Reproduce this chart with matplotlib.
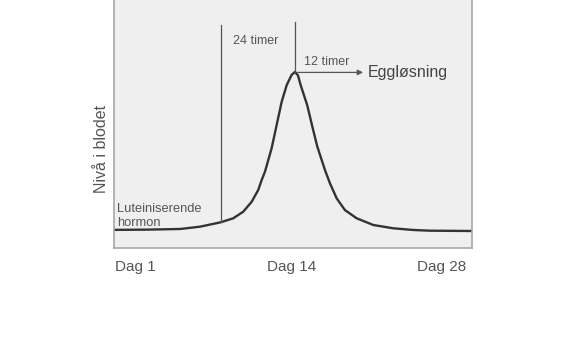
import matplotlib.pyplot as plt

# kurve for luteiniserende hormon (dag, nivå)
dager = [1, 3.5, 5.98, 7.49, 9.05, 10.0, 10.75, 11.39, 11.88, 12.14, 12.39,
         12.89, 13.27, 13.65, 14.03, 14.4, 14.65, 14.88, 15.08, 15.58, 15.96,
         16.33, 16.91, 17.29, 17.8, 18.42, 19.3, 20.56, 22.07, 23.57, 24.83,
         28]
nivaa = [7.3, 7.4, 7.66, 8.59, 10.36, 11.98, 14.64, 18.67, 23.4, 27.4, 30.8,
         40.2, 49.6, 59.0, 65.7, 69.8, 71.0, 69.6, 65.7, 57.5, 49.0,
         41.0, 31.5, 26.1, 20.0, 15.3, 12.0, 9.27, 7.94, 7.26, 6.98,
         6.85]

dag_ticks = [1, 14, 28]
dag_labels = ["Dag 1", "Dag 14", "Dag 28"]

plt.rcParams["font.family"] = ["Liberation Sans", "DejaVu Sans"]

fig = plt.figure(figsize=(5.8, 3.58), dpi=100)
ax = fig.add_axes([0.1966, 0.3073, 0.617, 0.6927])
ax.set_facecolor("#efefef")
ax.set_xlim(1, 28)
ax.set_ylim(0, 100)
ax.set_xticks([])
ax.set_yticks([])
ax.spines["top"].set_visible(False)
for s in ["left", "right", "bottom"]:
    ax.spines[s].set_color("#a8a8a8")
    ax.spines[s].set_linewidth(1.2)

ax.plot(dager, nivaa, color="#333333", lw=1.7, solid_joinstyle="round")

# vertikale linjer
ax.plot([9.07, 9.07], [10.4, 89.9], color="#555555", lw=0.9)
ax.plot([14.65, 14.65], [71.0, 91.1], color="#555555", lw=0.9)

ax.annotate("", xy=(20.0, 70.8), xytext=(14.65, 70.8),
            arrowprops=dict(arrowstyle="-|>", color="#555555", lw=0.9,
                            mutation_scale=8))
ax.text(20.15, 70.6, "Eggløsning", fontsize=11.5, color="#444444",
        va="center", ha="left")
ax.text(15.3, 75, "12 timer", fontsize=9, color="#555555", va="center")
ax.text(10.0, 83.5, "24 timer", fontsize=9, color="#555555", va="center")
ax.text(1.25, 12.9, "Luteiniserende\nhormon", fontsize=9.3, color="#555555",
        va="center", linespacing=1.25)

ax.text(-0.036, 0.40, "Nivå i blodet", transform=ax.transAxes, rotation=90,
        fontsize=11.5, color="#555555", ha="center", va="center")

has = ["left", "center", "right"]
xs = [1.1, 14.4, 27.6]
for x, lab, ha in zip(xs, dag_labels, has):
    ax.text(x, -0.076, lab, transform=ax.get_xaxis_transform(), fontsize=11,
            color="#555555", ha=ha, va="center")

fig.savefig("out.png", dpi=100)
